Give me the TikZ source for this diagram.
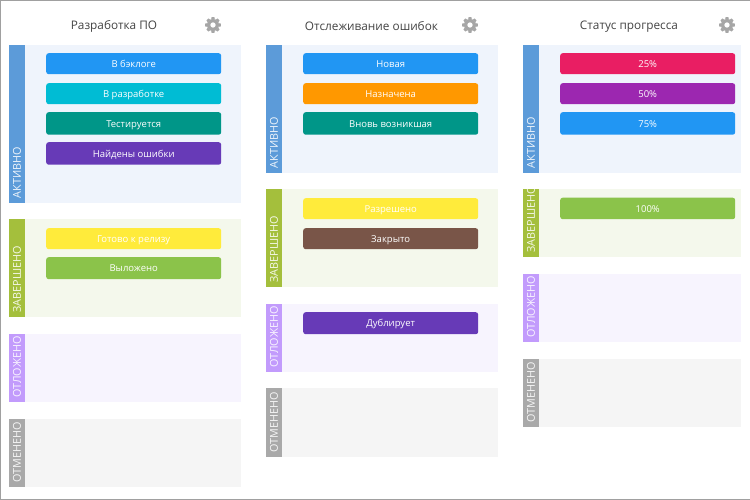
\documentclass[tikz,border=0pt]{standalone}
\usepackage{fontspec}
\setmainfont{Open Sans}
\definecolor{cAct}{HTML}{5C9BD9}
\definecolor{pAct}{HTML}{EFF4FC}
\definecolor{cDone}{HTML}{A4BF3C}
\definecolor{pDone}{HTML}{F4F8EC}
\definecolor{cHold}{HTML}{C29BFC}
\definecolor{pHold}{HTML}{F7F4FE}
\definecolor{cOff}{HTML}{A9A9A9}
\definecolor{pOff}{HTML}{F5F5F5}
\definecolor{bBlue}{HTML}{2196F3}
\definecolor{bCyan}{HTML}{00BCD4}
\definecolor{bTeal}{HTML}{009688}
\definecolor{bPurple}{HTML}{673AB7}
\definecolor{bYellow}{HTML}{FFEB3B}
\definecolor{bGreen}{HTML}{8BC34A}
\definecolor{bOrange}{HTML}{FF9800}
\definecolor{bBrown}{HTML}{795548}
\definecolor{bPink}{HTML}{E91E63}
\definecolor{bViolet}{HTML}{9C27B0}
\definecolor{gearc}{HTML}{A6A6A6}
\definecolor{frame}{HTML}{A0A0A0}
\definecolor{titlec}{HTML}{444444}
\tikzset{
  lanepanel/.style={fill=#1,draw=none,rectangle,inner sep=0pt,anchor=north west},
  laneside/.style={fill=#1,draw=none,rectangle,inner sep=0pt,anchor=north west,minimum width=16pt},
  lanetext/.style={text=white,font=\fontsize{10.8}{12}\selectfont,rotate=90,anchor=west,inner sep=0pt,opacity=.9},
  btn/.style={fill=#1,draw=none,rounded corners=2.5pt,minimum width=175pt,inner sep=0pt,
    text=white,font=\fontsize{9.5}{12}\selectfont,anchor=north west,text height=8pt,text depth=0.5pt},
  coltitle/.style={text=titlec,font=\fontsize{11.8}{14}\selectfont,inner sep=0pt},
}
% name, x, y1, y2, side colour, panel colour, label, panel right edge
\newcommand{\lanerow}[8]{%
  \node[lanepanel=#6,minimum width={#8-#2-16 pt},minimum height={#4-#3 pt}] (#1p) at (#2+16,#3) {};
  \node[laneside=#5,minimum height={#4-#3 pt}] (#1s) at (#2,#3) {};
  \node[lanetext] (#1t) at (#2+8,#4-4.5) {#7};
}
% name, x, y1, y2, colour, text
\newcommand{\cardbox}[6]{%
  \node[btn=#5,minimum height={#4-#3 pt}] (#1) at (#2,#3) {#6};
}
\newcommand{\gearicon}[3]{%
  \fill[gearc,even odd rule] (#2,#3) circle (2.8pt) (#2,#3) circle (6pt);
  \foreach \a in {0,45,...,315}{
    \fill[gearc,rotate around={\a:(#2,#3)}] (#2-1.9,#3-5.5) -- (#2-1.4,#3-7.8) -- (#2+1.4,#3-7.8) -- (#2+1.9,#3-5.5) -- cycle;
  }
  \coordinate (#1) at (#2,#3);
}
\begin{document}
\begin{tikzpicture}[x=1pt,y=-1pt]
\useasboundingbox (0,0) rectangle (750,500);
\fill[white] (0,0) rectangle (750,500);
\draw[frame,line width=1.2pt] (0.5,0.5) -- (749.5,0.5) (0.5,0.5) -- (0.5,499.5) -- (749.5,499.5);
% column 1
\node[coltitle] (t1) at (114,26.5) {Разработка ПО};
\gearicon{g1}{213}{25}
\lanerow{a1}{9}{45}{203}{cAct}{pAct}{АКТИВНО}{241}
\lanerow{d1}{9}{219}{317}{cDone}{pDone}{ЗАВЕРШЕНО}{241}
\lanerow{h1}{9}{334}{402}{cHold}{pHold}{ОТЛОЖЕНО}{241}
\lanerow{o1}{9}{418.5}{487}{cOff}{pOff}{ОТМЕНЕНО}{241}
\cardbox{b11}{46}{53}{74}{bBlue}{В бэклоге}
\cardbox{b12}{46}{83}{104}{bCyan}{В разработке}
\cardbox{b13}{46}{112}{134.5}{bTeal}{Тестируется}
\cardbox{b14}{46}{142}{164.5}{bPurple}{Найдены ошибки}
\cardbox{b15}{46}{228}{249}{bYellow}{Готово к релизу}
\cardbox{b16}{46}{257}{279}{bGreen}{Выложено}
% column 2
\node[coltitle] (t2) at (371.5,26.5) {Отслеживание ошибок};
\gearicon{g2}{470}{25}
\lanerow{a2}{266}{45}{173}{cAct}{pAct}{АКТИВНО}{498}
\lanerow{d2}{266}{189}{287}{cDone}{pDone}{ЗАВЕРШЕНО}{498}
\lanerow{h2}{266}{304}{372}{cHold}{pHold}{ОТЛОЖЕНО}{498}
\lanerow{o2}{266}{388}{457}{cOff}{pOff}{ОТМЕНЕНО}{498}
\cardbox{b21}{303}{53}{74}{bBlue}{Новая}
\cardbox{b22}{303}{83}{104}{bOrange}{Назначена}
\cardbox{b23}{303}{112}{134.5}{bTeal}{Вновь возникшая}
\cardbox{b24}{303}{198}{219}{bYellow}{Разрешено}
\cardbox{b25}{303}{228}{249}{bBrown}{Закрыто}
\cardbox{b26}{303}{312}{334}{bPurple}{Дублирует}
% column 3
\node[coltitle] (t3) at (629,26.5) {Статус прогресса};
\gearicon{g3}{727}{25}
\lanerow{a3}{523}{45}{173}{cAct}{pAct}{АКТИВНО}{741}
\lanerow{d3}{523}{189}{257}{cDone}{pDone}{ЗАВЕРШЕНО}{741}
\lanerow{h3}{523}{274}{342}{cHold}{pHold}{ОТЛОЖЕНО}{741}
\lanerow{o3}{523}{359}{427}{cOff}{pOff}{ОТМЕНЕНО}{741}
\cardbox{b31}{560}{53}{74}{bPink}{25\%}
\cardbox{b32}{560}{83}{104}{bViolet}{50\%}
\cardbox{b33}{560}{112}{134.5}{bBlue}{75\%}
\cardbox{b34}{560}{197.5}{219}{bGreen}{100\%}
\end{tikzpicture}
\end{document}
